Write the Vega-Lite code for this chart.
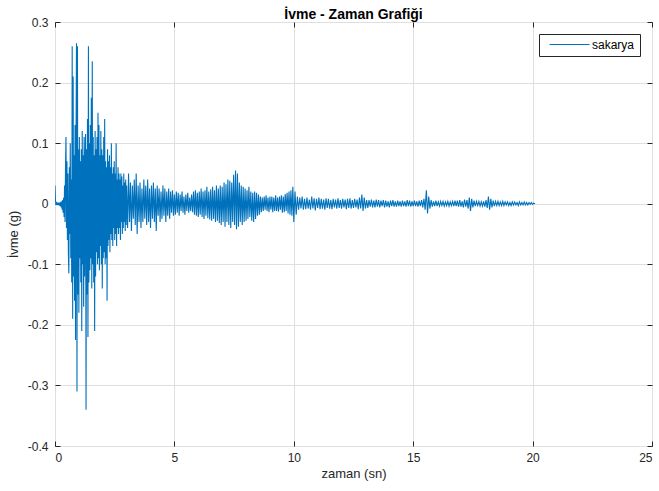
{
"$schema":"https://vega.github.io/schema/vega-lite/v6.json",
"width":597,"height":424,
"autosize":"none",
"padding":{"left":55,"top":22,"right":7,"bottom":45},
"background":"white",
"config":{"view":{"stroke":"#262626","strokeWidth":1},"font":"Liberation Sans"},
"title":{"text":"İvme - Zaman Grafiği","fontSize":14,"fontWeight":"bold","color":"#000000","font":"Liberation Sans","offset":0,"dy":6},
"data":{"values":[
{"t":0.00,"a":0.030},{"t":0.02,"a":0.005},{"t":0.04,"a":-0.002},{"t":0.06,"a":0.001},{"t":0.08,"a":-0.001},{"t":0.10,"a":0.002},{"t":0.12,"a":-0.002},{"t":0.14,"a":0.001},{"t":0.16,"a":0.000},{"t":0.18,"a":-0.003},{"t":0.20,"a":0.002},{"t":0.22,"a":-0.004},{"t":0.24,"a":0.003},{"t":0.26,"a":-0.006},{"t":0.28,"a":0.004},{"t":0.30,"a":-0.010},{"t":0.32,"a":0.006},{"t":0.34,"a":-0.015},{"t":0.36,"a":0.010},{"t":0.38,"a":-0.022},{"t":0.40,"a":0.030},{"t":0.42,"a":-0.030},{"t":0.44,"a":0.060},
{"t":0.46,"a":0.110},{"t":0.48,"a":-0.040},{"t":0.50,"a":0.070},{"t":0.52,"a":-0.060},{"t":0.54,"a":0.050},{"t":0.56,"a":-0.080},{"t":0.58,"a":-0.115},{"t":0.60,"a":0.060},{"t":0.62,"a":-0.050},{"t":0.64,"a":0.100},{"t":0.66,"a":-0.090},{"t":0.68,"a":0.040},{"t":0.70,"a":-0.130},{"t":0.72,"a":0.260},{"t":0.74,"a":-0.190},{"t":0.76,"a":0.210},{"t":0.78,"a":-0.120},{"t":0.80,"a":0.080},{"t":0.82,"a":-0.160},{"t":0.84,"a":0.130},{"t":0.86,"a":-0.225},{"t":0.88,"a":0.100},{"t":0.90,"a":0.265},{"t":0.92,"a":-0.310},{"t":0.94,"a":0.260},{"t":0.96,"a":-0.150},{"t":0.98,"a":0.090},{"t":1.00,"a":-0.180},{"t":1.02,"a":0.110},{"t":1.04,"a":-0.090},{"t":1.06,"a":0.070},{"t":1.08,"a":-0.130},{"t":1.10,"a":0.090},{"t":1.12,"a":-0.210},{"t":1.14,"a":0.120},{"t":1.16,"a":-0.100},{"t":1.18,"a":0.080},{"t":1.20,"a":-0.170},{"t":1.22,"a":0.110},{"t":1.24,"a":-0.120},{"t":1.26,"a":0.060},{"t":1.28,"a":0.115},{"t":1.30,"a":-0.340},{"t":1.32,"a":0.090},{"t":1.34,"a":-0.150},{"t":1.36,"a":0.140},{"t":1.38,"a":-0.220},{"t":1.40,"a":0.260},{"t":1.42,"a":-0.130},{"t":1.44,"a":0.100},{"t":1.46,"a":-0.110},{"t":1.48,"a":0.130},{"t":1.50,"a":-0.090},{"t":1.52,"a":0.175},{"t":1.54,"a":-0.140},{"t":1.56,"a":0.235},{"t":1.58,"a":-0.100},{"t":1.60,"a":0.110},{"t":1.62,"a":-0.130},{"t":1.64,"a":0.080},{"t":1.66,"a":-0.210},{"t":1.68,"a":0.120},{"t":1.70,"a":-0.120},{"t":1.72,"a":0.090},{"t":1.74,"a":-0.080},{"t":1.76,"a":0.110},{"t":1.78,"a":-0.100},{"t":1.80,"a":0.150},{"t":1.82,"a":-0.090},{"t":1.84,"a":0.130},{"t":1.86,"a":-0.110},{"t":1.88,"a":0.080},{"t":1.90,"a":-0.070},{"t":1.92,"a":0.120},{"t":1.94,"a":-0.100},{"t":1.96,"a":0.090},{"t":1.98,"a":-0.140},{"t":2.00,"a":0.080},{"t":2.02,"a":-0.090},{"t":2.04,"a":0.110},{"t":2.06,"a":-0.080},{"t":2.08,"a":0.140},{"t":2.10,"a":-0.100},{"t":2.12,"a":0.070},{"t":2.14,"a":-0.090},{"t":2.16,"a":0.060},{"t":2.18,"a":-0.160},{"t":2.20,"a":0.090},{"t":2.22,"a":-0.070},{"t":2.24,"a":0.070},{"t":2.26,"a":-0.060},{"t":2.28,"a":0.080},{"t":2.30,"a":-0.080},{"t":2.32,"a":0.060},{"t":2.34,"a":-0.050},{"t":2.36,"a":0.100},{"t":2.38,"a":-0.060},{"t":2.40,"a":0.050},{"t":2.42,"a":-0.070},{"t":2.44,"a":0.060},{"t":2.46,"a":-0.040},{"t":2.48,"a":0.070},{"t":2.50,"a":-0.060},{"t":2.52,"a":0.050},{"t":2.54,"a":-0.050},{"t":2.56,"a":0.100},{"t":2.58,"a":-0.070},{"t":2.60,"a":0.040},{"t":2.62,"a":-0.040},{"t":2.64,"a":0.060},{"t":2.66,"a":-0.050},{"t":2.68,"a":0.050},{"t":2.70,"a":-0.040},{"t":2.72,"a":0.040},{"t":2.74,"a":-0.060},{"t":2.76,"a":0.050},{"t":2.78,"a":-0.030},{"t":2.80,"a":0.045},{"t":2.82,"a":-0.050},{"t":2.84,"a":0.030},{"t":2.86,"a":-0.040},{"t":2.88,"a":0.050},{"t":2.90,"a":-0.030},{"t":2.92,"a":0.035},{"t":2.94,"a":-0.045},{"t":2.96,"a":0.040},{"t":2.98,"a":-0.035},{"t":3.00,"a":0.030},
{"t":3.04,"a":-0.040},{"t":3.08,"a":0.050},{"t":3.12,"a":-0.030},{"t":3.16,"a":0.035},{"t":3.20,"a":-0.045},{"t":3.24,"a":0.030},{"t":3.28,"a":-0.025},{"t":3.32,"a":0.040},{"t":3.36,"a":-0.035},{"t":3.40,"a":0.050},{"t":3.44,"a":-0.050},{"t":3.48,"a":0.030},{"t":3.52,"a":-0.030},{"t":3.56,"a":0.035},{"t":3.60,"a":-0.040},{"t":3.64,"a":0.025},{"t":3.68,"a":-0.030},{"t":3.72,"a":0.040},{"t":3.76,"a":-0.025},{"t":3.80,"a":0.030},{"t":3.84,"a":-0.035},{"t":3.88,"a":0.040},{"t":3.92,"a":-0.030},{"t":3.96,"a":0.025},{"t":4.00,"a":-0.040},{"t":4.04,"a":0.030},{"t":4.08,"a":-0.025},{"t":4.12,"a":0.035},{"t":4.16,"a":-0.030},{"t":4.20,"a":0.025},{"t":4.24,"a":-0.045},{"t":4.28,"a":0.030},{"t":4.32,"a":-0.020},{"t":4.36,"a":0.025},{"t":4.40,"a":-0.030},{"t":4.44,"a":0.020},{"t":4.48,"a":-0.025},{"t":4.52,"a":0.030},{"t":4.56,"a":-0.020},{"t":4.60,"a":0.025},{"t":4.64,"a":-0.030},{"t":4.68,"a":0.020},{"t":4.72,"a":-0.020},{"t":4.76,"a":0.025},{"t":4.80,"a":-0.025},{"t":4.84,"a":0.020},{"t":4.88,"a":-0.015},{"t":4.92,"a":0.022},{"t":4.96,"a":-0.020},{"t":5.00,"a":0.015},{"t":5.04,"a":-0.018},{"t":5.08,"a":0.020},{"t":5.12,"a":-0.015},{"t":5.16,"a":0.018},{"t":5.20,"a":-0.020},{"t":5.24,"a":0.015},{"t":5.28,"a":-0.012},{"t":5.32,"a":0.020},{"t":5.36,"a":-0.015},{"t":5.40,"a":0.012},{"t":5.44,"a":-0.018},{"t":5.48,"a":0.015},{"t":5.52,"a":-0.012},{"t":5.56,"a":0.018},{"t":5.60,"a":-0.015},{"t":5.64,"a":0.010},{"t":5.68,"a":-0.012},{"t":5.72,"a":0.015},{"t":5.76,"a":-0.014},{"t":5.80,"a":0.020},{"t":5.84,"a":-0.018},{"t":5.88,"a":0.022},{"t":5.92,"a":-0.020},{"t":5.96,"a":0.018},{"t":6.00,"a":-0.022},{"t":6.04,"a":0.020},{"t":6.08,"a":-0.018},{"t":6.12,"a":0.025},{"t":6.16,"a":-0.022},{"t":6.20,"a":0.020},{"t":6.24,"a":-0.025},{"t":6.28,"a":0.022},{"t":6.32,"a":-0.020},{"t":6.36,"a":0.028},{"t":6.40,"a":-0.024},{"t":6.44,"a":0.020},{"t":6.48,"a":-0.026},{"t":6.52,"a":0.024},{"t":6.56,"a":-0.028},{"t":6.60,"a":0.028},{"t":6.64,"a":-0.025},{"t":6.68,"a":0.022},{"t":6.72,"a":-0.030},{"t":6.76,"a":0.030},{"t":6.80,"a":-0.028},{"t":6.84,"a":0.025},{"t":6.88,"a":-0.032},{"t":6.92,"a":0.030},{"t":6.96,"a":-0.035},{"t":7.00,"a":0.028},{"t":7.04,"a":-0.030},{"t":7.08,"a":0.035},{"t":7.12,"a":-0.038},{"t":7.16,"a":0.032},{"t":7.20,"a":-0.030},{"t":7.24,"a":0.040},{"t":7.28,"a":-0.035},{"t":7.32,"a":0.038},{"t":7.36,"a":-0.040},{"t":7.40,"a":0.035},{"t":7.44,"a":-0.030},{"t":7.48,"a":0.048},{"t":7.52,"a":-0.035},{"t":7.56,"a":0.055},{"t":7.60,"a":-0.042},{"t":7.64,"a":0.050},{"t":7.68,"a":-0.038},{"t":7.72,"a":0.035},{"t":7.76,"a":-0.030},{"t":7.80,"a":0.030},{"t":7.84,"a":-0.035},{"t":7.88,"a":0.028},{"t":7.92,"a":-0.030},{"t":7.96,"a":0.025},{"t":8.00,"a":-0.028},{"t":8.04,"a":0.022},{"t":8.08,"a":-0.025},{"t":8.12,"a":0.028},{"t":8.16,"a":-0.022},{"t":8.20,"a":0.020},{"t":8.24,"a":-0.028},{"t":8.28,"a":0.018},{"t":8.32,"a":-0.030},{"t":8.36,"a":0.020},{"t":8.40,"a":-0.025},{"t":8.44,"a":0.018},{"t":8.48,"a":-0.020},{"t":8.52,"a":0.015},{"t":8.56,"a":-0.018},{"t":8.60,"a":0.012},{"t":8.64,"a":-0.014},{"t":8.68,"a":0.010},{"t":8.72,"a":-0.012},{"t":8.76,"a":0.012},{"t":8.80,"a":-0.010},{"t":8.84,"a":0.014},{"t":8.88,"a":-0.012},{"t":8.92,"a":0.010},{"t":8.96,"a":-0.014},{"t":9.00,"a":0.012},{"t":9.04,"a":-0.010},{"t":9.08,"a":0.012},{"t":9.12,"a":-0.014},{"t":9.16,"a":0.010},{"t":9.20,"a":-0.012},{"t":9.24,"a":0.014},{"t":9.28,"a":-0.012},{"t":9.32,"a":0.010},{"t":9.36,"a":-0.013},{"t":9.40,"a":0.012},{"t":9.44,"a":-0.010},{"t":9.48,"a":0.014},{"t":9.52,"a":-0.015},{"t":9.56,"a":0.012},{"t":9.60,"a":-0.014},{"t":9.64,"a":0.016},{"t":9.68,"a":-0.012},{"t":9.72,"a":0.018},{"t":9.76,"a":-0.016},{"t":9.80,"a":0.020},{"t":9.84,"a":-0.018},{"t":9.88,"a":0.022},{"t":9.92,"a":-0.020},{"t":9.96,"a":0.028},{"t":10.00,"a":-0.030},
{"t":10.05,"a":0.020},{"t":10.10,"a":-0.018},{"t":10.15,"a":0.012},{"t":10.20,"a":-0.010},{"t":10.25,"a":0.010},{"t":10.30,"a":-0.008},{"t":10.35,"a":0.012},{"t":10.40,"a":-0.010},{"t":10.45,"a":0.008},{"t":10.50,"a":-0.009},{"t":10.55,"a":0.010},{"t":10.60,"a":-0.008},{"t":10.65,"a":0.007},{"t":10.70,"a":-0.010},{"t":10.75,"a":0.012},{"t":10.80,"a":-0.008},{"t":10.85,"a":0.009},{"t":10.90,"a":-0.011},{"t":10.95,"a":0.008},{"t":11.00,"a":-0.007},{"t":11.05,"a":0.010},{"t":11.10,"a":-0.009},{"t":11.15,"a":0.008},{"t":11.20,"a":-0.008},{"t":11.25,"a":0.007},{"t":11.30,"a":-0.010},{"t":11.35,"a":0.009},{"t":11.40,"a":-0.007},{"t":11.45,"a":0.008},{"t":11.50,"a":-0.008},{"t":11.55,"a":0.006},{"t":11.60,"a":-0.009},{"t":11.65,"a":0.008},{"t":11.70,"a":-0.006},{"t":11.75,"a":0.007},{"t":11.80,"a":-0.008},{"t":11.85,"a":0.009},{"t":11.90,"a":-0.007},{"t":11.95,"a":0.006},{"t":12.00,"a":-0.008},{"t":12.05,"a":0.008},{"t":12.10,"a":-0.006},{"t":12.15,"a":0.007},{"t":12.20,"a":-0.009},{"t":12.25,"a":0.008},{"t":12.30,"a":-0.007},{"t":12.35,"a":0.009},{"t":12.40,"a":-0.008},{"t":12.45,"a":0.006},{"t":12.50,"a":-0.007},{"t":12.55,"a":0.008},{"t":12.60,"a":-0.006},{"t":12.65,"a":0.007},{"t":12.70,"a":-0.009},{"t":12.75,"a":0.010},{"t":12.80,"a":-0.008},{"t":12.85,"a":0.015},{"t":12.90,"a":-0.012},{"t":12.95,"a":0.010},{"t":13.00,"a":-0.008},{"t":13.05,"a":0.006},{"t":13.10,"a":-0.007},{"t":13.15,"a":0.006},{"t":13.20,"a":-0.005},{"t":13.25,"a":0.007},{"t":13.30,"a":-0.006},{"t":13.35,"a":0.005},{"t":13.40,"a":-0.006},{"t":13.45,"a":0.007},{"t":13.50,"a":-0.005},{"t":13.55,"a":0.006},{"t":13.60,"a":-0.006},{"t":13.65,"a":0.005},{"t":13.70,"a":-0.004},{"t":13.75,"a":0.006},{"t":13.80,"a":-0.006},{"t":13.85,"a":0.005},{"t":13.90,"a":-0.005},{"t":13.95,"a":0.004},{"t":14.00,"a":-0.006},{"t":14.05,"a":0.005},{"t":14.10,"a":-0.004},{"t":14.15,"a":0.006},{"t":14.20,"a":-0.005},{"t":14.25,"a":0.004},{"t":14.30,"a":-0.005},{"t":14.35,"a":0.005},{"t":14.40,"a":-0.004},{"t":14.45,"a":0.004},{"t":14.50,"a":-0.005},{"t":14.55,"a":0.005},{"t":14.60,"a":-0.004},{"t":14.65,"a":0.004},{"t":14.70,"a":-0.005},{"t":14.75,"a":0.006},{"t":14.80,"a":-0.004},{"t":14.85,"a":0.005},{"t":14.90,"a":-0.005},{"t":14.95,"a":0.004},{"t":15.00,"a":-0.004},{"t":15.05,"a":0.005},{"t":15.10,"a":-0.004},{"t":15.15,"a":0.004},{"t":15.20,"a":-0.005},{"t":15.25,"a":0.005},{"t":15.30,"a":-0.004},{"t":15.35,"a":0.006},{"t":15.40,"a":-0.006},{"t":15.45,"a":0.008},{"t":15.50,"a":-0.010},{"t":15.55,"a":0.022},{"t":15.60,"a":-0.016},{"t":15.65,"a":0.012},{"t":15.70,"a":-0.008},{"t":15.75,"a":0.006},{"t":15.80,"a":-0.005},{"t":15.85,"a":0.004},{"t":15.90,"a":-0.004},{"t":15.95,"a":0.005},{"t":16.00,"a":-0.004},{"t":16.05,"a":0.003},{"t":16.10,"a":-0.004},{"t":16.15,"a":0.004},{"t":16.20,"a":-0.003},{"t":16.25,"a":0.004},{"t":16.30,"a":-0.004},{"t":16.35,"a":0.003},{"t":16.40,"a":-0.003},{"t":16.45,"a":0.004},{"t":16.50,"a":-0.004},{"t":16.55,"a":0.003},{"t":16.60,"a":-0.003},{"t":16.65,"a":0.004},{"t":16.70,"a":-0.004},{"t":16.75,"a":0.005},{"t":16.80,"a":-0.004},{"t":16.85,"a":0.005},{"t":16.90,"a":-0.005},{"t":16.95,"a":0.006},{"t":17.00,"a":-0.005},{"t":17.05,"a":0.004},{"t":17.10,"a":-0.006},{"t":17.15,"a":0.007},{"t":17.20,"a":-0.005},{"t":17.25,"a":0.006},{"t":17.30,"a":-0.008},{"t":17.35,"a":0.010},{"t":17.40,"a":-0.012},{"t":17.45,"a":0.008},{"t":17.50,"a":-0.006},{"t":17.55,"a":0.005},{"t":17.60,"a":-0.004},{"t":17.65,"a":0.004},{"t":17.70,"a":-0.003},{"t":17.75,"a":0.004},{"t":17.80,"a":-0.004},{"t":17.85,"a":0.003},{"t":17.90,"a":-0.004},{"t":17.95,"a":0.004},{"t":18.00,"a":-0.005},{"t":18.05,"a":0.006},{"t":18.10,"a":-0.007},{"t":18.15,"a":0.012},{"t":18.20,"a":-0.010},{"t":18.25,"a":0.008},{"t":18.30,"a":-0.006},{"t":18.35,"a":0.005},{"t":18.40,"a":-0.004},{"t":18.45,"a":0.004},{"t":18.50,"a":-0.003},{"t":18.55,"a":0.004},{"t":18.60,"a":-0.003},{"t":18.65,"a":0.003},{"t":18.70,"a":-0.003},{"t":18.75,"a":0.004},{"t":18.80,"a":-0.003},{"t":18.85,"a":0.003},{"t":18.90,"a":-0.002},{"t":18.95,"a":0.003},{"t":19.00,"a":-0.003},{"t":19.05,"a":0.002},{"t":19.10,"a":-0.003},{"t":19.15,"a":0.003},{"t":19.20,"a":-0.002},{"t":19.25,"a":0.003},{"t":19.30,"a":-0.002},{"t":19.35,"a":0.002},{"t":19.40,"a":-0.003},{"t":19.45,"a":0.003},{"t":19.50,"a":-0.002},{"t":19.55,"a":0.002},{"t":19.60,"a":-0.002},{"t":19.65,"a":0.003},{"t":19.70,"a":-0.002},{"t":19.75,"a":0.002},{"t":19.80,"a":-0.002},{"t":19.85,"a":0.002},{"t":19.90,"a":-0.001},{"t":19.95,"a":0.002},{"t":20.00,"a":-0.001},{"t":20.05,"a":0.001},{"t":20.10,"a":0.000}
]},
"resolve":{"axis":{"x":"independent","y":"independent"}},
"layer":[
{"mark":{"type":"line","strokeWidth":1.1,"clip":true},
 "encoding":{
  "x":{"field":"t","type":"quantitative","scale":{"domain":[0,25],"nice":false,"zero":false},
   "axis":{"title":"zaman (sn)","values":[0,5,10,15,20,25],"labelExpr":"'' + datum.value","grid":true,"gridColor":"#dfdfdf","gridWidth":1,"domain":false,"tickSize":-5,"tickColor":"#262626","labelPadding":11,"labelFontSize":12,"labelColor":"#262626","labelFont":"Liberation Sans","titleFont":"Liberation Sans","titleFontSize":13,"titleFontWeight":"normal","titleColor":"#262626","titlePadding":4}},
  "y":{"field":"a","type":"quantitative","scale":{"domain":[-0.4,0.3],"nice":false,"zero":false},
   "axis":{"title":"İvme (g)","values":[-0.4,-0.3,-0.2,-0.1,0,0.1,0.2,0.3],"labelExpr":"'' + datum.value","grid":true,"gridColor":"#dfdfdf","gridWidth":1,"domain":false,"tickSize":-5,"tickColor":"#262626","labelPadding":12,"labelFontSize":12,"labelColor":"#262626","labelFont":"Liberation Sans","titleFont":"Liberation Sans","titleFontSize":13,"titleFontWeight":"normal","titleColor":"#262626","titlePadding":7}},
  "color":{"datum":"sakarya","type":"nominal","scale":{"domain":["sakarya"],"range":["#0072BD"]},
   "legend":{"title":null,"orient":"top-right","offset":12,"strokeColor":"#262626","fillColor":"white","padding":5,"clipHeight":11,"symbolType":"stroke","symbolSize":1600,"symbolStrokeWidth":1,"symbolOffset":5,"labelFontSize":12,"labelFont":"Liberation Sans","labelColor":"#000000","labelOffset":2}}
 }},
{"mark":{"type":"point","opacity":0},
 "encoding":{
  "x":{"datum":0,"type":"quantitative","axis":{"orient":"top","title":null,"labels":false,"grid":false,"domain":false,"values":[0,5,10,15,20,25],"tickSize":-5,"tickColor":"#262626"}},
  "y":{"datum":0,"type":"quantitative","axis":{"orient":"right","title":null,"labels":false,"grid":false,"domain":false,"values":[-0.4,-0.3,-0.2,-0.1,0,0.1,0.2,0.3],"tickSize":-5,"tickColor":"#262626"}}
 }}
]
}
